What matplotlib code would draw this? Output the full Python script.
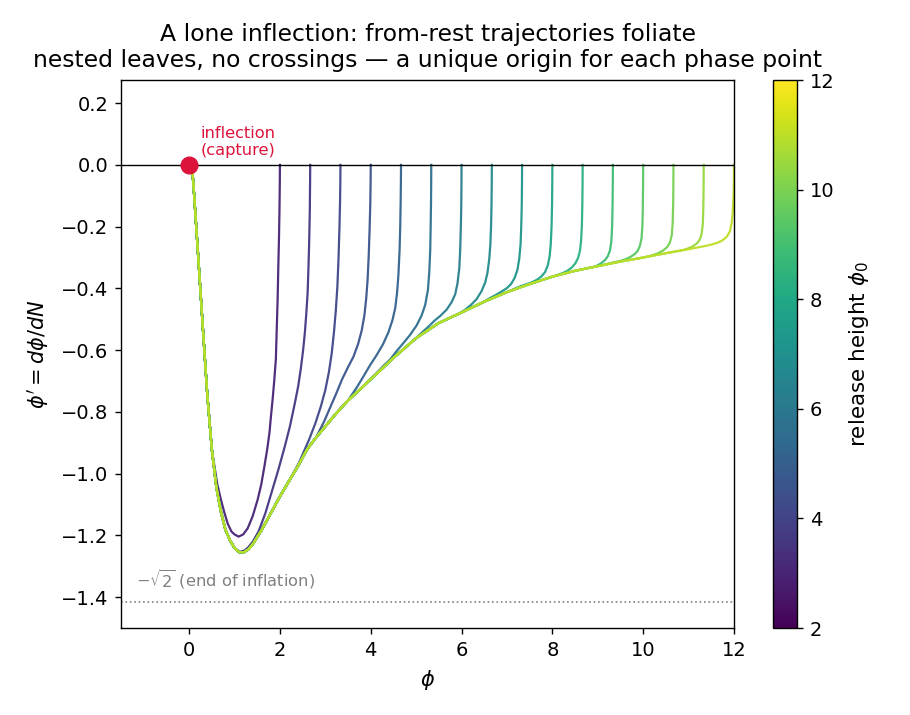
import numpy as np
import matplotlib
matplotlib.use("Agg")
import matplotlib.pyplot as plt
from matplotlib.colors import Normalize
from matplotlib.cm import ScalarMappable

# ---- data ----
release_heights = [2.0, 2.667, 3.333, 4.0, 4.667, 5.333, 6.0, 6.667, 7.333,
                   8.0, 8.667, 9.333, 10.0, 10.667, 11.333, 12.0]

# shared attractor (envelope) that all trajectories join
env_phi = [0.0, 0.04, 0.07, 0.1, 0.2, 0.3, 0.4, 0.5, 0.6, 0.7, 0.8, 0.9, 1.0,
           1.1, 1.2, 1.3, 1.4, 1.6, 1.8, 2.0, 2.2, 2.4, 2.6, 2.8, 3.0, 3.25,
           3.5, 3.75, 4.0, 4.25, 4.5, 5.0, 5.5, 6.0, 6.5, 7.0, 7.5, 8.0, 8.5,
           9.0, 9.5, 10.0, 10.5, 11.0, 11.5]
env_dphi = [0.0, -0.003, -0.015, -0.074, -0.296, -0.522, -0.744, -0.921, -1.044,
            -1.123, -1.182, -1.216, -1.241, -1.254, -1.255, -1.246, -1.229,
            -1.182, -1.128, -1.074, -1.024, -0.975, -0.921, -0.882, -0.847,
            -0.803, -0.763, -0.729, -0.694, -0.660, -0.625, -0.561, -0.512,
            -0.478, -0.443, -0.412, -0.386, -0.362, -0.343, -0.328, -0.313,
            -0.300, -0.286, -0.273, -0.258]

# departure branch of each trajectory (from release point down to the envelope)
hook_phi = [
    [2.0, 1.997, 1.99, 1.978, 1.965, 1.95, 1.93, 1.91, 1.875, 1.84, 1.80, 1.77,
     1.72, 1.66, 1.59, 1.51, 1.40, 1.29, 1.19, 1.09, 1.0, 0.93, 0.85, 0.78, 0.70, 0.62],
    [2.667, 2.664, 2.658, 2.645, 2.63, 2.61, 2.58, 2.55, 2.51, 2.46, 2.40, 2.32,
     2.22, 2.10, 1.97, 1.83, 1.68, 1.53, 1.40, 1.30, 1.22],
    [3.333, 3.33, 3.323, 3.31, 3.29, 3.265, 3.23, 3.19, 3.14, 3.08, 3.00, 2.90,
     2.78, 2.65, 2.52, 2.42],
    [4.0, 3.997, 3.99, 3.975, 3.955, 3.93, 3.90, 3.86, 3.80, 3.72, 3.62, 3.50,
     3.37, 3.23, 3.10, 2.97],
    [4.667, 4.664, 4.658, 4.65, 4.635, 4.61, 4.58, 4.54, 4.48, 4.39, 4.27, 4.13,
     3.98, 3.84, 3.70, 3.60],
    [5.333, 5.331, 5.327, 5.32, 5.31, 5.29, 5.26, 5.20, 5.12, 5.01, 4.87, 4.72,
     4.57, 4.43, 4.30],
    [6.0, 5.998, 5.994, 5.985, 5.97, 5.95, 5.91, 5.86, 5.78, 5.67, 5.54, 5.40,
     5.27, 5.15],
    [6.667, 6.665, 6.66, 6.65, 6.635, 6.61, 6.57, 6.52, 6.44, 6.33, 6.21, 6.08, 5.95],
    [7.333, 7.331, 7.326, 7.315, 7.30, 7.27, 7.23, 7.17, 7.09, 6.99, 6.86, 6.72, 6.58],
    [8.0, 7.998, 7.993, 7.983, 7.965, 7.94, 7.90, 7.84, 7.76, 7.66, 7.54, 7.42, 7.30],
    [8.667, 8.665, 8.66, 8.65, 8.632, 8.61, 8.57, 8.51, 8.43, 8.32, 8.20, 8.08],
    [9.333, 9.331, 9.326, 9.317, 9.30, 9.27, 9.22, 9.16, 9.07, 8.95],
    [10.0, 9.998, 9.993, 9.983, 9.965, 9.93, 9.88, 9.82, 9.74, 9.64, 9.52],
    [10.667, 10.665, 10.66, 10.65, 10.63, 10.59, 10.53, 10.44, 10.33, 10.20],
    [11.333, 11.331, 11.326, 11.315, 11.29, 11.25, 11.19, 11.10, 11.00, 10.90],
    [12.0, 11.998, 11.99, 11.975, 11.95, 11.91, 11.84, 11.74, 11.62, 11.45, 11.25],
]
hook_dphi = [
    [0.0, -0.059, -0.148, -0.246, -0.325, -0.433, -0.532, -0.630, -0.699, -0.758,
     -0.818, -0.867, -0.921, -0.975, -1.034, -1.084, -1.138, -1.177, -1.197,
     -1.204, -1.197, -1.187, -1.162, -1.128, -1.084, -1.034],
    [0.0, -0.059, -0.148, -0.246, -0.325, -0.414, -0.483, -0.542, -0.601, -0.660,
     -0.719, -0.778, -0.847, -0.916, -0.985, -1.054, -1.128, -1.187, -1.221,
     -1.239, -1.249],
    [0.0, -0.059, -0.128, -0.207, -0.305, -0.394, -0.473, -0.542, -0.611, -0.670,
     -0.729, -0.783, -0.837, -0.887, -0.931, -0.965],
    [0.0, -0.059, -0.128, -0.207, -0.296, -0.374, -0.433, -0.488, -0.537, -0.581,
     -0.621, -0.655, -0.694, -0.744, -0.788, -0.832],
    [0.0, -0.059, -0.128, -0.197, -0.276, -0.355, -0.414, -0.463, -0.502, -0.542,
     -0.581, -0.616, -0.650, -0.685, -0.719, -0.741],
    [0.0, -0.059, -0.128, -0.197, -0.276, -0.345, -0.404, -0.453, -0.488, -0.520,
     -0.550, -0.577, -0.603, -0.630, -0.648],
    [0.0, -0.059, -0.128, -0.197, -0.276, -0.335, -0.384, -0.419, -0.445, -0.469,
     -0.488, -0.505, -0.524, -0.540],
    [0.0, -0.059, -0.128, -0.197, -0.256, -0.305, -0.350, -0.381, -0.409, -0.435,
     -0.453, -0.469, -0.481],
    [0.0, -0.059, -0.128, -0.197, -0.256, -0.305, -0.340, -0.366, -0.386, -0.400,
     -0.412, -0.424, -0.435],
    [0.0, -0.059, -0.128, -0.197, -0.256, -0.296, -0.325, -0.347, -0.361, -0.372,
     -0.381, -0.387, -0.393],
    [0.0, -0.059, -0.128, -0.197, -0.246, -0.276, -0.300, -0.318, -0.332, -0.344,
     -0.352, -0.358],
    [0.0, -0.059, -0.128, -0.197, -0.246, -0.276, -0.296, -0.308, -0.319, -0.329],
    [0.0, -0.059, -0.128, -0.197, -0.236, -0.261, -0.278, -0.288, -0.296, -0.304, -0.310],
    [0.0, -0.059, -0.128, -0.187, -0.227, -0.251, -0.266, -0.277, -0.286, -0.293],
    [0.0, -0.059, -0.128, -0.187, -0.222, -0.241, -0.253, -0.263, -0.270, -0.275],
    [0.0, -0.049, -0.099, -0.148, -0.187, -0.215, -0.233, -0.245, -0.253, -0.260, -0.266],
]

end_of_inflation = -np.sqrt(2)

fig = plt.figure(figsize=(9.1, 7.15), dpi=100)
ax = fig.add_axes([121 / 910, 87 / 715, 613 / 910, 548 / 715])
cax = fig.add_axes([773 / 910, 87 / 715, 24 / 910, 548 / 715])

cmap = plt.get_cmap('viridis')
norm = Normalize(vmin=2, vmax=12)
colors = cmap(np.linspace(0.1, 0.9, len(release_heights)))

env_phi_a = np.array(env_phi)
env_dphi_a = np.array(env_dphi)
for i, phi0 in enumerate(release_heights):
    hp = np.array(hook_phi[i])
    hd = np.array(hook_dphi[i])
    mask = env_phi_a < hp[-1] - 0.05
    xs = np.concatenate([hp, env_phi_a[mask][::-1]])
    ys = np.concatenate([hd, env_dphi_a[mask][::-1]])
    ax.plot(xs, ys, color=colors[i], lw=1.6, alpha=0.95)

ax.axhline(0, color='black', lw=1.0)
ax.axhline(end_of_inflation, color='gray', lw=1.2, ls=':')
ax.text(-1.17, end_of_inflation + 0.035, r'$-\sqrt{2}$ (end of inflation)',
        color='gray', fontsize=11.7, va='bottom')
ax.plot([0], [0], 'o', color='crimson', ms=12, zorder=10)
ax.text(0.26, 0.022, 'inflection\n(capture)', color='crimson', fontsize=11.7,
        va='bottom', linespacing=1.15)

ax.set_xlim(-1.5, 12)
ax.set_ylim(-1.5, 0.275)
ax.set_xticks([0, 2, 4, 6, 8, 10, 12])
ax.set_yticks(np.round(np.arange(-1.4, 0.21, 0.2), 1))
ax.tick_params(labelsize=14, length=4.6, width=1.0, pad=4.6)
for s in ax.spines.values():
    s.set_linewidth(1.0)
ax.set_xlabel(r'$\phi$', fontsize=15, labelpad=6)
ax.set_ylabel(r"$\phi' = d\phi/dN$", fontsize=15, labelpad=7)
ax.set_title('A lone inflection: from-rest trajectories foliate\n'
             'nested leaves, no crossings \u2014 a unique origin for each phase point',
             fontsize=16.9, pad=9)

sm = ScalarMappable(norm=norm, cmap=cmap)
cb = fig.colorbar(sm, cax=cax)
cb.set_label(r'release height $\phi_0$', fontsize=15.5, labelpad=9)
cb.set_ticks([2, 4, 6, 8, 10, 12])
cb.ax.tick_params(labelsize=14, length=4.6, width=1.0, pad=4.6)
cb.outline.set_linewidth(1.0)

fig.savefig('out.png', dpi=100)
